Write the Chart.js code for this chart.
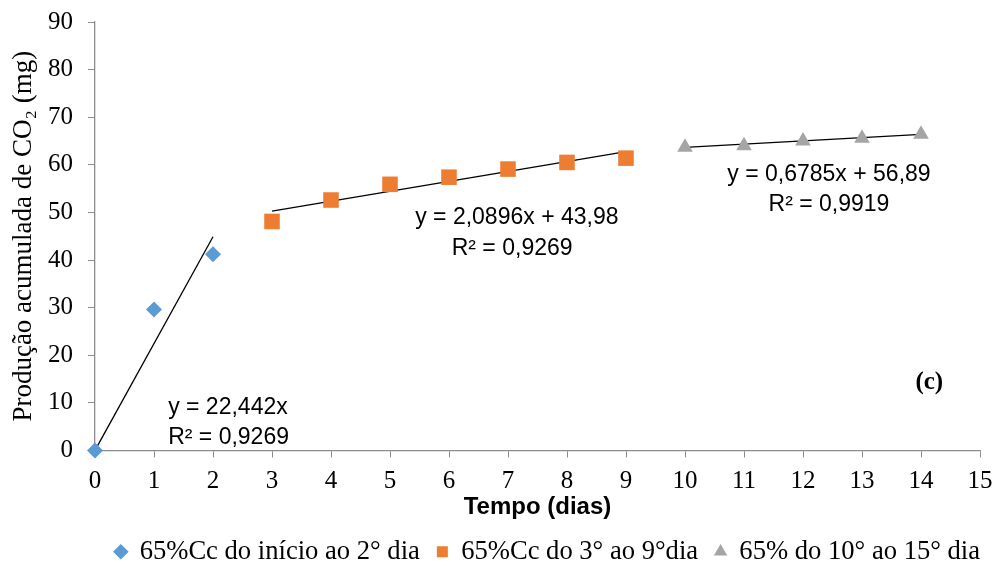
<!DOCTYPE html>
<html>
<head>
<meta charset="utf-8">
<script src="https://cdn.jsdelivr.net/npm/chart.js@4"></script>
<style>
  html, body { margin: 0; padding: 0; background: #fff; }
  #wrap { width: 997px; height: 570px; }
</style>
</head>
<body>
<div id="wrap"><canvas id="co2-chart" width="997" height="570"></canvas></div>
<script>
// cumulative CO2 (mg)
const daysA = [0, 1, 2];
const co2A = [0, 29.6, 41.2];
const daysB = [3, 4, 5, 6, 7, 8, 9];
const co2B = [48.1, 52.6, 55.9, 57.4, 59.1, 60.5, 61.4];
const daysC = [10, 11, 12, 13, 14];
const co2C = [63.7, 64.0, 65.0, 65.6, 66.4];

const seriesNames = ["65%Cc do início ao 2° dia", "65%Cc do 3° ao 9°dia", "65% do 10° ao 15° dia"];

// linear trend coefficients [slope, intercept]
const trendA = [22.442, 0];
const trendB = [2.0896, 43.98];
const trendC = [0.6785, 56.89];

const xTicks = [0, 1, 2, 3, 4, 5, 6, 7, 8, 9, 10, 11, 12, 13, 14, 15];
const yTicks = [0, 10, 20, 30, 40, 50, 60, 70, 80, 90];

const serif = "'Liberation Serif', 'Times New Roman', serif";
const sans = "'Liberation Sans', Arial, sans-serif";
const axisGray = '#8c8c8c';

function pts(xs, ys) {
    return xs.map((x, i) => ({ x: x, y: ys[i] }));
}
function trendPts(xs, coef) {
    const a = xs[0], b = xs[xs.length - 1];
    return [{ x: a, y: coef[0] * a + coef[1] }, { x: b, y: coef[0] * b + coef[1] }];
}

function markerSet(label, xs, ys, color, style, radius) {
    return {
        label: label,
        data: pts(xs, ys),
        showLine: false,
        clip: false,
        backgroundColor: color,
        borderColor: color,
        borderWidth: 0,
        pointStyle: style,
        pointRadius: radius,
        pointHoverRadius: radius
    };
}
function trendSet(xs, coef) {
    return {
        label: 'trend',
        data: trendPts(xs, coef),
        showLine: true,
        clip: false,
        borderColor: '#000',
        borderWidth: 1.3,
        pointRadius: 0,
        fill: false
    };
}

// equation labels, placed in data units
const notes = [
    { text: 'y = 22,442x', x: 1.24, y: 9.0, align: 'left' },
    { text: 'R² = 0,9269', x: 1.24, y: 2.6, align: 'left' },
    { text: 'y = 2,0896x + 43,98', x: 7.15, y: 48.8, align: 'center' },
    { text: 'R² = 0,9269', x: 7.07, y: 42.4, align: 'center' },
    { text: 'y = 0,6785x + 56,89', x: 12.44, y: 58.0, align: 'center' },
    { text: 'R² = 0,9919', x: 12.44, y: 51.6, align: 'center' }
];

const notesPlugin = {
    id: 'notes',
    afterDatasetsDraw(chart) {
        const ctx = chart.ctx;
        const xs = chart.scales.x, ys = chart.scales.y;
        ctx.save();
        ctx.fillStyle = '#000';
        ctx.textBaseline = 'middle';
        ctx.font = '23px ' + sans;
        notes.forEach(n => {
            ctx.textAlign = n.align;
            ctx.fillText(n.text, xs.getPixelForValue(n.x), ys.getPixelForValue(n.y));
        });
        ctx.font = 'bold 25px ' + serif;
        ctx.textAlign = 'center';
        ctx.fillText('(c)', xs.getPixelForValue(14.14), ys.getPixelForValue(14.3));
        ctx.restore();
    }
};

const co2Data = {
    datasets: [
        markerSet(seriesNames[0], daysA, co2A, '#5B9BD5', 'rectRot', 8),
        markerSet(seriesNames[1], daysB, co2B, '#ED7D31', 'rect', 11),
        markerSet(seriesNames[2], daysC, co2C, '#A5A5A5', 'triangle', 9),
        trendSet(daysA, trendA),
        trendSet(daysB, trendB),
        trendSet(daysC, trendC)
    ]
};

const co2Options = {
    responsive: false,
    animation: false,
    layout: { padding: { left: 8, right: 0, top: 22, bottom: -5 } },
    scales: {
        x: {
            type: 'linear',
            min: 0,
            max: 15,
            afterBuildTicks: s => { s.ticks = xTicks.map(v => ({ value: v })); },
            afterFit: s => { s.height = 71; s.paddingRight = 17; },
            grid: { display: true, drawOnChartArea: false, drawTicks: true, tickLength: 7, tickColor: axisGray },
            border: { color: axisGray, width: 1.3 },
            ticks: { color: '#000', font: { family: serif, size: 25 }, padding: 9, maxRotation: 0 },
            title: {
                display: true,
                text: 'Tempo (dias)',
                color: '#000',
                font: { family: sans, size: 24, weight: 'bold' },
                padding: { top: 0, bottom: 0 }
            }
        },
        y: {
            min: 0,
            max: 90,
            afterBuildTicks: s => { s.ticks = yTicks.map(v => ({ value: v })); },
            afterFit: s => { s.width = 87; s.paddingTop = 0; },
            grid: { display: true, drawOnChartArea: false, drawTicks: true, tickLength: 7, tickColor: axisGray },
            border: { color: axisGray, width: 1.3 },
            ticks: { color: '#000', font: { family: serif, size: 25 }, padding: 15 },
            title: {
                display: true,
                text: 'Produção acumulada de CO₂ (mg)',
                color: '#000',
                font: { family: serif, size: 27 },
                padding: { top: 0, bottom: 0 }
            }
        }
    },
    plugins: {
        legend: {
            position: 'bottom',
            align: 'end',
            labels: {
                filter: item => item.text !== 'trend',
                usePointStyle: true,
                boxWidth: 11,
                boxHeight: 11,
                padding: 17,
                color: '#000',
                font: { family: serif, size: 26.6 }
            }
        },
        tooltip: { enabled: false }
    }
};

new Chart(document.getElementById('co2-chart'), {
    type: 'scatter',
    data: co2Data,
    options: co2Options,
    plugins: [notesPlugin]
});
</script>
</body>
</html>
